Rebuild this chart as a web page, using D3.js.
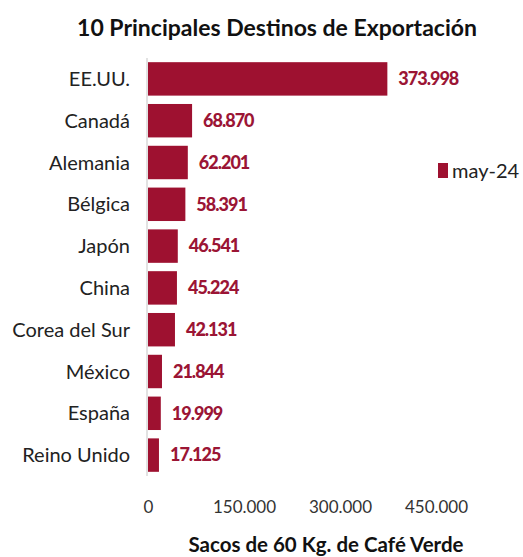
<!DOCTYPE html>
<html>
<head>
<meta charset="utf-8">
<script src="https://cdn.jsdelivr.net/npm/d3@7"></script>
<style>
body { margin: 0; background: #fff; }
text { font-family: Lato, "Open Sans", sans-serif; }
</style>
</head>
<body>
<div id="chart"></div>
<script>
// datos de exportacion
var paises = ['EE.UU.', 'Canadá', 'Alemania', 'Bélgica', 'Japón', 'China', 'Corea del Sur', 'México', 'España', 'Reino Unido']
var sacos = [373998, 68870, 62201, 58391, 46541, 45224, 42131, 21844, 19999, 17125]
var ticks = [0, 150000, 300000, 450000]
var serie = 'may-24'

var width = 523, height = 557
var margin = {top: 58, left: 148, bottom: 81, right: 87}

var svg = d3.select('#chart')
  .append('svg')
  .attr('width', width)
  .attr('height', height)

var x = d3.scaleLinear().domain([0, 450000]).range([margin.left, width - margin.right])
var y = d3.scaleBand().domain(paises).range([margin.top, height - margin.bottom]).paddingInner(0.2).paddingOuter(0.1)

var fmt = function(v){ return d3.format(',')(v).replace(/,/g, '.') }

svg.append('text')
  .attr('x', 277).attr('y', 36)
  .attr('text-anchor', 'middle')
  .style('font-size', '23px').style('font-weight', 'bold').attr('fill', '#111')
  .text('10 Principales Destinos de Exportación')

svg.selectAll('.bar')
  .data(sacos)
  .enter().append('rect')
  .attr('class', 'bar')
  .attr('x', x(0))
  .attr('y', function(d, i){ return y(paises[i]) })
  .attr('width', function(d){ return x(d) - x(0) })
  .attr('height', y.bandwidth())
  .attr('fill', '#9e1130')

svg.append('line')
  .attr('x1', x(0) - 1).attr('x2', x(0) - 1)
  .attr('y1', margin.top).attr('y2', height - margin.bottom)
  .attr('stroke', '#d9d9d9').attr('stroke-width', 1.5)

svg.selectAll('.val')
  .data(sacos)
  .enter().append('text')
  .attr('class', 'val')
  .attr('x', function(d){ return x(d) + 11 })
  .attr('y', function(d, i){ return y(paises[i]) + y.bandwidth() / 2 })
  .attr('dy', '0.35em')
  .style('font-size', '18px').style('font-weight', '900').style('letter-spacing', '-1px').attr('fill', '#9b1535')
  .text(fmt)

svg.selectAll('.cat')
  .data(paises)
  .enter().append('text')
  .attr('class', 'cat')
  .attr('x', 130)
  .attr('y', function(d){ return y(d) + y.bandwidth() / 2 })
  .attr('dy', '0.35em')
  .attr('text-anchor', 'end')
  .style('font-size', '20px').attr('fill', '#222')
  .text(function(d){ return d })

var xAxis = svg.append('g')
  .attr('transform', 'translate(0,' + (height - margin.bottom) + ')')
  .call(d3.axisBottom(x).tickValues(ticks).tickSize(0).tickPadding(25).tickFormat(fmt))
xAxis.select('.domain').remove()
xAxis.selectAll('text').style('font-size', '17px').attr('fill', '#333').style('font-family', 'Lato, sans-serif')

svg.append('text')
  .attr('x', 326).attr('y', 552)
  .attr('text-anchor', 'middle')
  .style('font-size', '20.5px').style('font-weight', 'bold').attr('fill', '#111')
  .text('Sacos de 60 Kg. de Café Verde')

// leyenda
var leg = svg.append('g').attr('transform', 'translate(438,163)')
leg.append('rect').attr('width', 10).attr('height', 15).attr('fill', '#9e1130')
leg.append('text').attr('x', 14).attr('y', 8).attr('dy', '0.35em')
  .style('font-size', '20px').attr('fill', '#222').text(serie)
</script>
</body>
</html>
